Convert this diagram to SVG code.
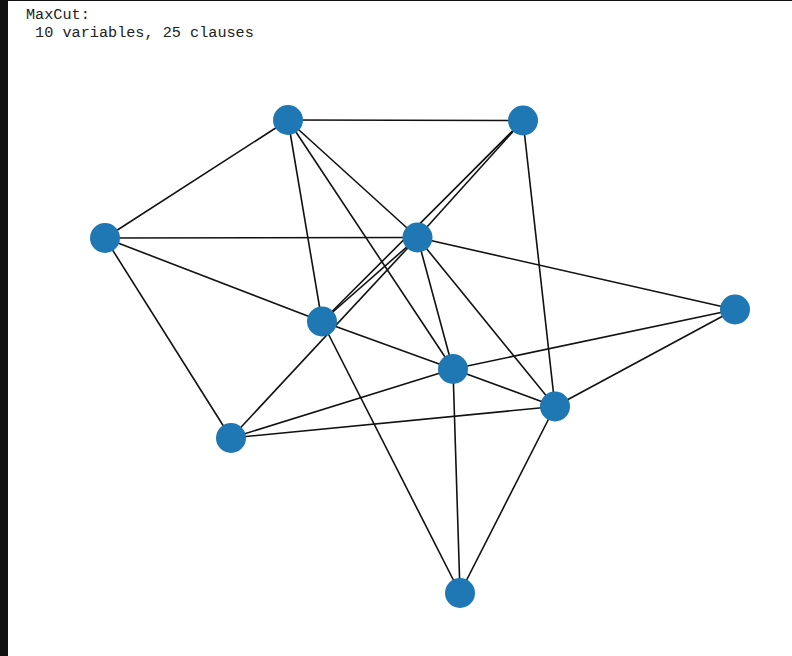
<svg xmlns="http://www.w3.org/2000/svg" width="792" height="656" viewBox="0 0 792 656">
  <style>
    .edge { stroke: #111; stroke-width: 1.6; fill: none; }
    .node circle { fill: #1f77b4; }
    .label { font-family: "Liberation Mono", "DejaVu Sans Mono", monospace; font-size: 15.2px; fill: #222; white-space: pre; }
  </style>
  <rect x="0" y="0" width="792" height="656" fill="#ffffff"/>
  <!-- frame edges -->
  <rect x="0" y="0" width="8" height="656" fill="#111"/>
  <rect x="0" y="0" width="792" height="1" fill="#111"/>

  <text class="label" x="26" y="18.5">MaxCut:</text>
  <text class="label" x="26" y="36.5" xml:space="preserve"> 10 variables, 25 clauses</text>

  <g id="edges">
    <line class="edge" x1="288" y1="120" x2="523" y2="120.5"/>
    <line class="edge" x1="288" y1="120" x2="105" y2="238"/>
    <line class="edge" x1="288" y1="120" x2="417.5" y2="237.5"/>
    <line class="edge" x1="288" y1="120" x2="322" y2="321.5"/>
    <line class="edge" x1="288" y1="120" x2="453" y2="369"/>
    <line class="edge" x1="523" y1="120.5" x2="417.5" y2="237.5"/>
    <line class="edge" x1="523" y1="120.5" x2="322" y2="321.5"/>
    <line class="edge" x1="523" y1="120.5" x2="555" y2="406.5"/>
    <line class="edge" x1="105" y1="238" x2="417.5" y2="237.5"/>
    <line class="edge" x1="105" y1="238" x2="231" y2="438"/>
    <line class="edge" x1="105" y1="238" x2="322" y2="321.5"/>
    <line class="edge" x1="417.5" y1="237.5" x2="735" y2="309.5"/>
    <line class="edge" x1="417.5" y1="237.5" x2="322" y2="321.5"/>
    <line class="edge" x1="417.5" y1="237.5" x2="453" y2="369"/>
    <line class="edge" x1="417.5" y1="237.5" x2="555" y2="406.5"/>
    <line class="edge" x1="417.5" y1="237.5" x2="231" y2="438"/>
    <line class="edge" x1="735" y1="309.5" x2="453" y2="369"/>
    <line class="edge" x1="735" y1="309.5" x2="555" y2="406.5"/>
    <line class="edge" x1="322" y1="321.5" x2="453" y2="369"/>
    <line class="edge" x1="322" y1="321.5" x2="460" y2="593"/>
    <line class="edge" x1="453" y1="369" x2="555" y2="406.5"/>
    <line class="edge" x1="453" y1="369" x2="231" y2="438"/>
    <line class="edge" x1="453" y1="369" x2="460" y2="593"/>
    <line class="edge" x1="555" y1="406.5" x2="231" y2="438"/>
    <line class="edge" x1="555" y1="406.5" x2="460" y2="593"/>
  </g>

  <g id="n0" class="node"><circle cx="288" cy="120" r="15"/></g>
  <g id="n1" class="node"><circle cx="523" cy="120.5" r="15"/></g>
  <g id="n2" class="node"><circle cx="105" cy="238" r="15"/></g>
  <g id="n3" class="node"><circle cx="417.5" cy="237.5" r="15"/></g>
  <g id="n4" class="node"><circle cx="735" cy="309.5" r="15"/></g>
  <g id="n5" class="node"><circle cx="322" cy="321.5" r="15"/></g>
  <g id="n6" class="node"><circle cx="453" cy="369" r="15"/></g>
  <g id="n7" class="node"><circle cx="555" cy="406.5" r="15"/></g>
  <g id="n8" class="node"><circle cx="231" cy="438" r="15"/></g>
  <g id="n9" class="node"><circle cx="460" cy="593" r="15"/></g>
</svg>
